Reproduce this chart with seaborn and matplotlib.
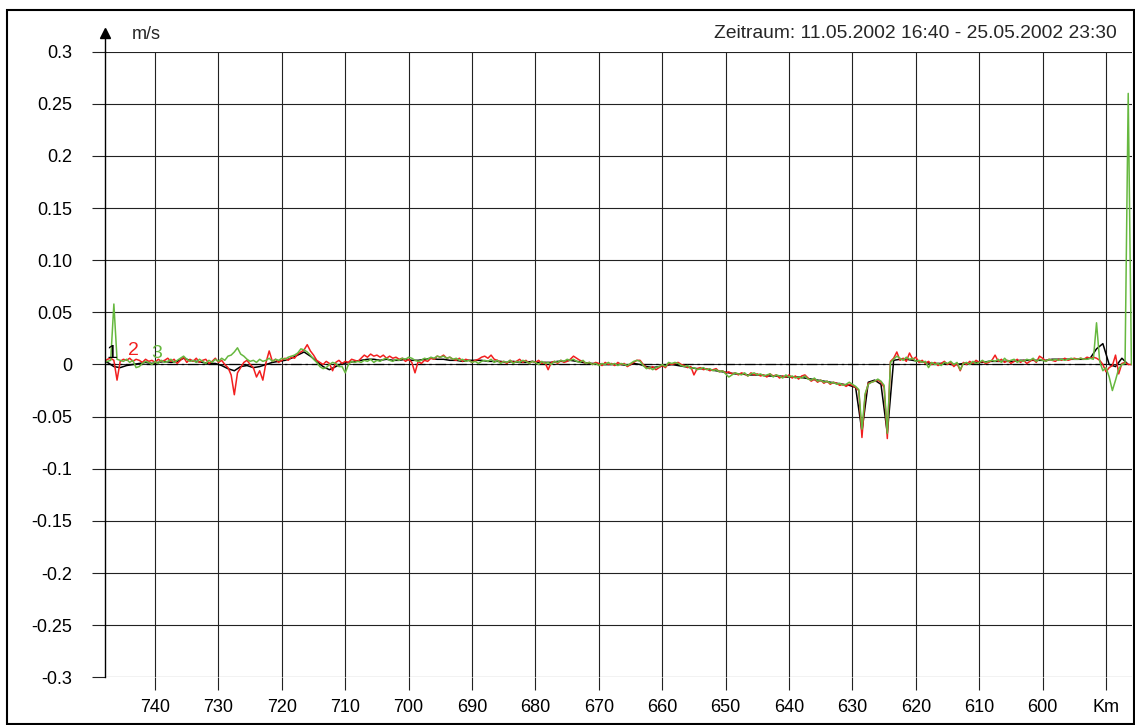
import numpy as np
import pandas as pd
import matplotlib
matplotlib.use("Agg")
import matplotlib.pyplot as plt
from matplotlib.patches import Rectangle
import seaborn as sns

# Flow velocity along the river (mm/s), sampled every 0.5 km from km 748 downstream
profile_2 = [
    3, 5, 6, 4, -15, 3, 5, 4, 6, 3, 5, 4, 2, 5, 3, 4, 2, 5, 3, 4,
    6, 3, 5, 1, 4, 7, 2, 5, 3, 6, 2, 4, 5, 1, 3, 6, 2, 4, 0, -3,
    -10, -29, -8, -3, 2, 4, 0, -3, -12, -6, -15, 2, 13, 3, 5, 2, 4, 6, 4, 7,
    6, 10, 12, 14, 19, 13, 9, 4, 2, 0, 3, 1, -6, 2, 4, 1, 3, 2, 5, 4,
    3, 6, 9, 7, 10, 8, 9, 7, 9, 6, 8, 6, 7, 5, 6, 3, 5, 2, -8, 3,
    1, 4, 3, 6, 5, 8, 7, 9, 6, 7, 5, 4, 6, 3, 5, 4, 2, 4, 5, 7,
    8, 6, 9, 5, 4, 2, 3, 1, 4, 2, 3, 5, 2, 4, 1, 3, 2, 4, 1, 2,
    -5, 2, 3, 1, 4, 2, 3, 5, 8, 6, 4, 3, 1, 2, 0, 2, 1, -1, 2, 0,
    1, -1, 2, 0, 1, -2, 0, 2, 4, 4, 0, -3, -4, -2, -5, -3, -1, -3, 1, 0,
    1, 2, 0, -1, -3, -2, -10, -4, -3, -5, -4, -6, -5, -4, -7, -6, -8, -7, -9, -8,
    -10, -8, -9, -11, -8, -10, -9, -11, -10, -12, -9, -11, -10, -13, -11, -12, -10, -13, -11, -14,
    -11, -10, -13, -16, -14, -17, -15, -18, -16, -19, -17, -18, -20, -19, -21, -19, -20, -22, -25, -70,
    -30, -18, -17, -16, -15, -17, -22, -71, 3, 6, 12, 4, 6, 3, 11, 5, 7, 2, 4, 1,
    3, 0, 2, -1, 1, 3, 0, 2, -2, 1, -6, 2, 0, 3, 1, 4, 2, 3, 1, 2,
    4, 9, 3, 5, 2, 4, 1, 3, 5, 2, 4, 1, 3, 5, 2, 8, 6, 3, 5, 4,
    3, 5, 4, 6, 4, 5, 6, 5, 6, 5, 7, 6, 7, 6, 4, 0, -7, -3, -1, 9,
    -9, 1, 2, 0, 0,
]

profile_3 = [
    2, 3, 4, 58, 5, 4, 3, 5, 2, 4, -3, -2, 1, 3, 2, 0, 3, 1, 4, 2,
    3, 5, 2, 4, 6, 8, 5, 3, 4, 2, 5, 3, 1, 4, 2, 5, 3, 6, 4, 8,
    9, 12, 16, 10, 8, 5, 3, 4, 2, 5, 3, 4, 6, 3, 5, 4, 6, 5, 7, 8,
    9, 11, 15, 14, 12, 9, 5, 2, -2, -4, -3, 0, 2, 1, -2, -2, -8, 0, 3, 2,
    3, 2, 4, 3, 5, 2, 4, 3, 5, 6, 4, 3, 5, 4, 6, 5, 7, 6, 4, 3,
    4, 6, 5, 7, 6, 8, 7, 8, 6, 7, 5, 6, 4, 5, 3, 4, 2, 3, 1, 3,
    4, 3, 5, 2, 4, 1, 3, 2, 4, 1, 3, 2, 4, 3, 1, 3, 2, 0, 3, 1,
    2, 0, 3, 2, 4, 3, 5, 4, 5, 3, 2, 4, 1, 2, 0, 1, -1, 1, 0, 2,
    0, 1, -1, 1, 0, -1, 1, 3, 4, 3, -1, -4, -3, -5, -3, -2, 0, -2, 2, 1,
    2, 1, -1, -2, -1, -4, -3, -5, -4, -3, -5, -4, -6, -5, -7, -6, -9, -12, -10, -8,
    -9, -10, -8, -11, -9, -8, -10, -9, -11, -10, -9, -12, -10, -11, -13, -10, -12, -11, -13, -12,
    -13, -11, -14, -15, -13, -16, -15, -17, -16, -18, -17, -19, -18, -20, -19, -17, -19, -21, -24, -62,
    -28, -19, -17, -16, -14, -16, -20, -66, 2, 5, 8, 6, 4, 7, 5, 6, 3, 4, 2, 3,
    -3, 2, 0, 1, -1, 2, 1, 3, 0, 2, -5, 1, 2, 0, 3, 1, 2, 4, 2, 3,
    4, 3, 5, 2, 6, 3, 4, 5, 2, 4, 3, 5, 4, 6, 3, 5, 4, 3, 5, 4,
    5, 4, 5, 4, 5, 6, 5, 5, 6, 5, 5, 6, 5, 40, 3, -6, -3, -12, -25, -15,
    -4, 0, 1, 260, 0,
]

# Profile 1 is sampled every 1 km from km 748.5
profile_1 = [
    3, 2, -2, -3, -1, 0, 1, 2, 1, 2,
    3, 2, 3, 6, 4, 3, 2, 1, 1, -1,
    -4, -6, -2, -1, -3, -2, 0, 2, 3, 4,
    6, 9, 12, 8, 3, -2, -5, -2, 1, 2,
    3, 4, 5, 5, 4, 5, 4, 4, 5, 4,
    4, 5, 6, 5, 5, 4, 4, 3, 4, 4,
    4, 3, 3, 3, 2, 3, 2, 2, 3, 2,
    2, 2, 3, 3, 4, 3, 2, 1, 1, 0,
    0, 0, 0, -1, 1, 0, -2, -3, -2, -1,
    0, -1, -2, -3, -4, -4, -5, -6, -7, -8,
    -9, -9, -10, -10, -10, -11, -11, -11, -12, -12,
    -12, -13, -14, -15, -16, -17, -18, -19, -20, -22,
    -64, -17, -15, -19, -66, 4, 5, 5, 4, 3,
    2, 1, 1, 1, 0, 0, 1, 1, 2, 2,
    3, 3, 3, 3, 3, 4, 4, 4, 4, 4,
    5, 5, 5, 5, 5, 5, 6, 15, 20, 0,
    -2, 6, 0,
]

series_names = ["1", "2", "3"]
series_colors = ["#000000", "#f21f1f", "#66b83f"]

x_ticks = [740, 730, 720, 710, 700, 690, 680, 670, 660, 650, 640, 630, 620, 610, 600, 590]
x_tick_labels = ["740", "730", "720", "710", "700", "690", "680", "670", "660", "650",
                 "640", "630", "620", "610", "600", "Km"]
y_ticks = [0.3, 0.25, 0.2, 0.15, 0.1, 0.05, 0, -0.05, -0.1, -0.15, -0.2, -0.25, -0.3]
y_tick_labels = ["0.3", "0.25", "0.2", "0.15", "0.10", "0.05", "0", "-0.05", "-0.1",
                 "-0.15", "-0.2", "-0.25", "-0.3"]

period_text = "Zeitraum: 11.05.2002 16:40 - 25.05.2002 23:30"

# Long-form table: km position, velocity in m/s, series id
km_half = 748.0 - 0.5 * np.arange(len(profile_2))
km_full = 748.5 - 1.0 * np.arange(len(profile_1))
df = pd.concat([
    pd.DataFrame({"km": km_full, "v": np.array(profile_1) / 1000.0, "series": "1"}),
    pd.DataFrame({"km": km_half, "v": np.array(profile_2) / 1000.0, "series": "2"}),
    pd.DataFrame({"km": km_half, "v": np.array(profile_3) / 1000.0, "series": "3"}),
], ignore_index=True)

sns.set_style("white")
plt.rcParams["font.family"] = ["Liberation Sans", "DejaVu Sans"]

fig = plt.figure(figsize=(11.35, 7.25), dpi=100)
ax = fig.add_axes([0.0925, 0.0658, 0.9046, 0.8629])

grid_color = "#222222"

ax.axhline(0, color="black", lw=0.9, ls=(0, (8.5, 3, 2, 3)), zorder=1.5)

sns.lineplot(data=df, x="km", y="v", hue="series", hue_order=series_names,
             palette=dict(zip(series_names, series_colors)), estimator=None,
             sort=False, legend=False, lw=1.1, ax=ax, zorder=2)

ax.set_xlim(747.9, 585.95)
ax.set_ylim(-0.3, 0.3)
ax.set_xlabel("")
ax.set_ylabel("")

ax.set_xticks(x_ticks)
ax.set_xticklabels(x_tick_labels)
ax.set_yticks(y_ticks)
ax.set_yticklabels(y_tick_labels)

ax.set_axisbelow(True)
ax.grid(True, color=grid_color, lw=0.8)
ax.tick_params(axis="both", direction="out", length=9.4, width=0.8, color=grid_color,
               labelsize=13, labelcolor="black", bottom=True, left=True)
ax.tick_params(axis="x", pad=6.5)
ax.tick_params(axis="y", pad=14)

for side in ["top", "right", "bottom"]:
    ax.spines[side].set_visible(False)
ax.spines["left"].set_color("black")
ax.spines["left"].set_linewidth(1.0)

# Upward arrow on the value axis
ax.plot([0, 0], [1.0, 1.025], transform=ax.transAxes, color="black", lw=1.0, clip_on=False)
ax.plot([0], [1.03], transform=ax.transAxes, marker="^", ms=7.5, color="black",
        clip_on=False, lw=0)
ax.text(0.04, 1.027, "m/s", transform=ax.transAxes, ha="center", va="center", fontsize=13)
ax.text(0.9857, 1.029, period_text, transform=ax.transAxes, ha="right", va="center",
        fontsize=13.9)

# Series numbers next to the start of each curve
label_pos = [(746.8, 0.011), (743.4, 0.013), (739.7, 0.0105)]
for name, color, (kx, vy) in zip(series_names, series_colors, label_pos):
    ax.text(kx, vy, name, color=color, ha="center", va="center", fontsize=14, zorder=3)

# Outer frame
fig.patches.append(Rectangle((7 / 1135, 1 / 725), (1134 - 7) / 1135, (724 - 10) / 725,
                             transform=fig.transFigure, fill=False, ec="black", lw=1.5))

fig.savefig("out.png", dpi=100)
